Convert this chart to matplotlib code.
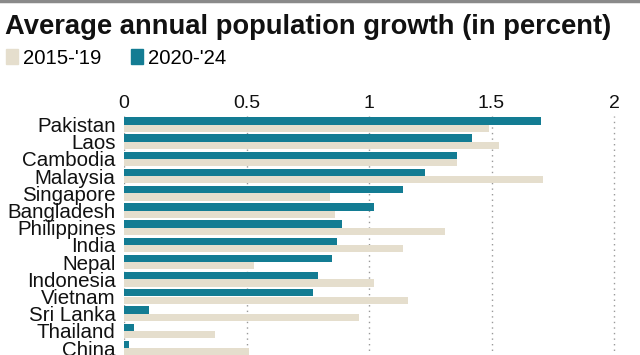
import matplotlib
matplotlib.use("Agg")
from matplotlib import pyplot as plt
from matplotlib.patches import Patch
import numpy as np

# data
countries = ["Pakistan", "Laos", "Cambodia", "Malaysia", "Singapore", "Bangladesh",
             "Philippines", "India", "Nepal", "Indonesia", "Vietnam", "Sri Lanka",
             "Thailand", "China"]
growth_2015_19 = [1.49, 1.53, 1.36, 1.71, 0.84, 0.86, 1.31, 1.14, 0.53, 1.02, 1.16, 0.96, 0.37, 0.51]
growth_2020_24 = [1.70, 1.42, 1.36, 1.23, 1.14, 1.02, 0.89, 0.87, 0.85, 0.79, 0.77, 0.10, 0.04, 0.02]
ticks = [0, 0.5, 1, 1.5, 2]
tick_labels = ["0", "0.5", "1", "1.5", "2"]

teal = "#137c93"
beige = "#e5decd"

plt.rcParams['font.family'] = ['Liberation Sans', 'DejaVu Sans']

fig = plt.figure(figsize=(6.4, 3.55), dpi=100)
W, H = 640, 355

# axes placed in pixel terms: x=0 at 124px, 245px per unit, row pitch 17.2px
x0, scale = 124, 245
xmax = 2.08
row = 17.2
top_px = 124.5 - 0.5 * row
ymax = 14.0
bot_px = 124.5 + ymax * row
ax = fig.add_axes([x0 / W, 1 - bot_px / H, xmax * scale / W, (bot_px - top_px) / H])

y = np.arange(len(countries))
h = 0.42
ax.barh(y - h / 2, growth_2020_24, height=h, color=teal, zorder=3)
ax.barh(y + h / 2, growth_2015_19, height=h, color=beige, zorder=3)

ax.set_xlim(0, xmax)
ax.set_ylim(ymax, -0.5)
ax.set_xticks(ticks)
ax.set_xticklabels(tick_labels)
ax.xaxis.tick_top()
ax.tick_params(axis='x', length=0, labelsize=14, pad=3, colors='#111111')
ax.set_yticks(y)
ax.set_yticklabels(countries)
ax.tick_params(axis='y', length=0, labelsize=14.8, pad=6, colors='#111111')
for lbl in ax.get_yticklabels():
    lbl.set_va('center_baseline')
for s in ax.spines.values():
    s.set_visible(False)
ax.grid(axis='x', linestyle=(0, (1, 3)), color='#999999', linewidth=1.0, zorder=0)
ax.set_axisbelow(True)

# title and legend
fig.text(5 / W, 1 - 34 / H, "Average annual population growth (in percent)",
         fontsize=19.7, fontweight='bold', ha='left', va='baseline', color='#111111')
handles = [Patch(color=beige, label="2015-'19"), Patch(color=teal, label="2020-'24")]
fig.legend(handles=handles, loc='center left', bbox_to_anchor=(-0.004, 1 - 58 / H),
           ncol=2, frameon=False, fontsize=14.6, handlelength=0.6, handleheight=0.75,
           handletextpad=0.25, columnspacing=1.45, borderaxespad=0)

# grey rule along the top edge
fig.add_artist(plt.Line2D([0, 1], [1 - 1 / H, 1 - 1 / H], color='#8a8a8a', linewidth=2.5,
                          transform=fig.transFigure))

fig.savefig("out.png", dpi=100)
